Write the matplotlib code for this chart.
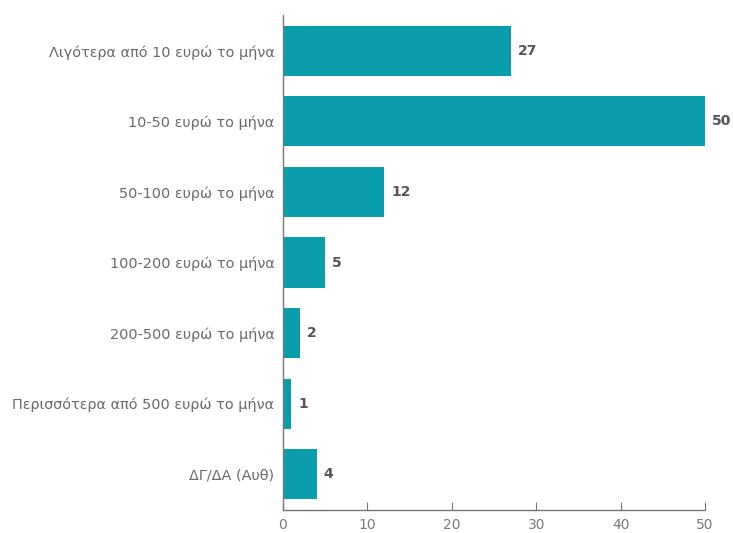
import matplotlib
matplotlib.use("Agg")
import matplotlib.pyplot as plt

categories = [
    "Λιγότερα από 10 ευρώ το μήνα",
    "10-50 ευρώ το μήνα",
    "50-100 ευρώ το μήνα",
    "100-200 ευρώ το μήνα",
    "200-500 ευρώ το μήνα",
    "Περισσότερα από 500 ευρώ το μήνα",
    "ΔΓ/ΔΑ (Αυθ)",
]
values = [27, 50, 12, 5, 2, 1, 4]
xticks = [0, 10, 20, 30, 40, 50]

bar_color = "#0A9DAB"
text_color = "#6a6a6a"

plt.rcParams["font.family"] = ["DejaVu Sans"]

fig = plt.figure(figsize=(7.33, 5.33), dpi=100)
ax = fig.add_axes([0.386, 0.043, 0.576, 0.929])

pos = list(range(len(categories)))
ax.barh(pos, values, height=0.71, color=bar_color)
for p, v in zip(pos, values):
    ax.text(v + 0.8, p, str(v), va="center", ha="left",
            fontsize=10, fontweight="bold", color="#555555")

ax.set_ylim(6.51, -0.51)
ax.set_xlim(0, 50)
ax.set_yticks(pos)
ax.set_yticklabels(categories, fontsize=10.4, color=text_color)
ax.set_xticks(xticks)
ax.set_xticklabels([str(t) for t in xticks], fontsize=10, color="#7a7a7a")

ax.tick_params(axis="y", length=0, pad=6)
ax.tick_params(axis="x", direction="in", length=6, color="#777777", pad=6)
for s in ["top", "right"]:
    ax.spines[s].set_visible(False)
for s in ["left", "bottom"]:
    ax.spines[s].set_color("#777777")
    ax.spines[s].set_linewidth(1.0)

fig.savefig("out.png", dpi=100)
